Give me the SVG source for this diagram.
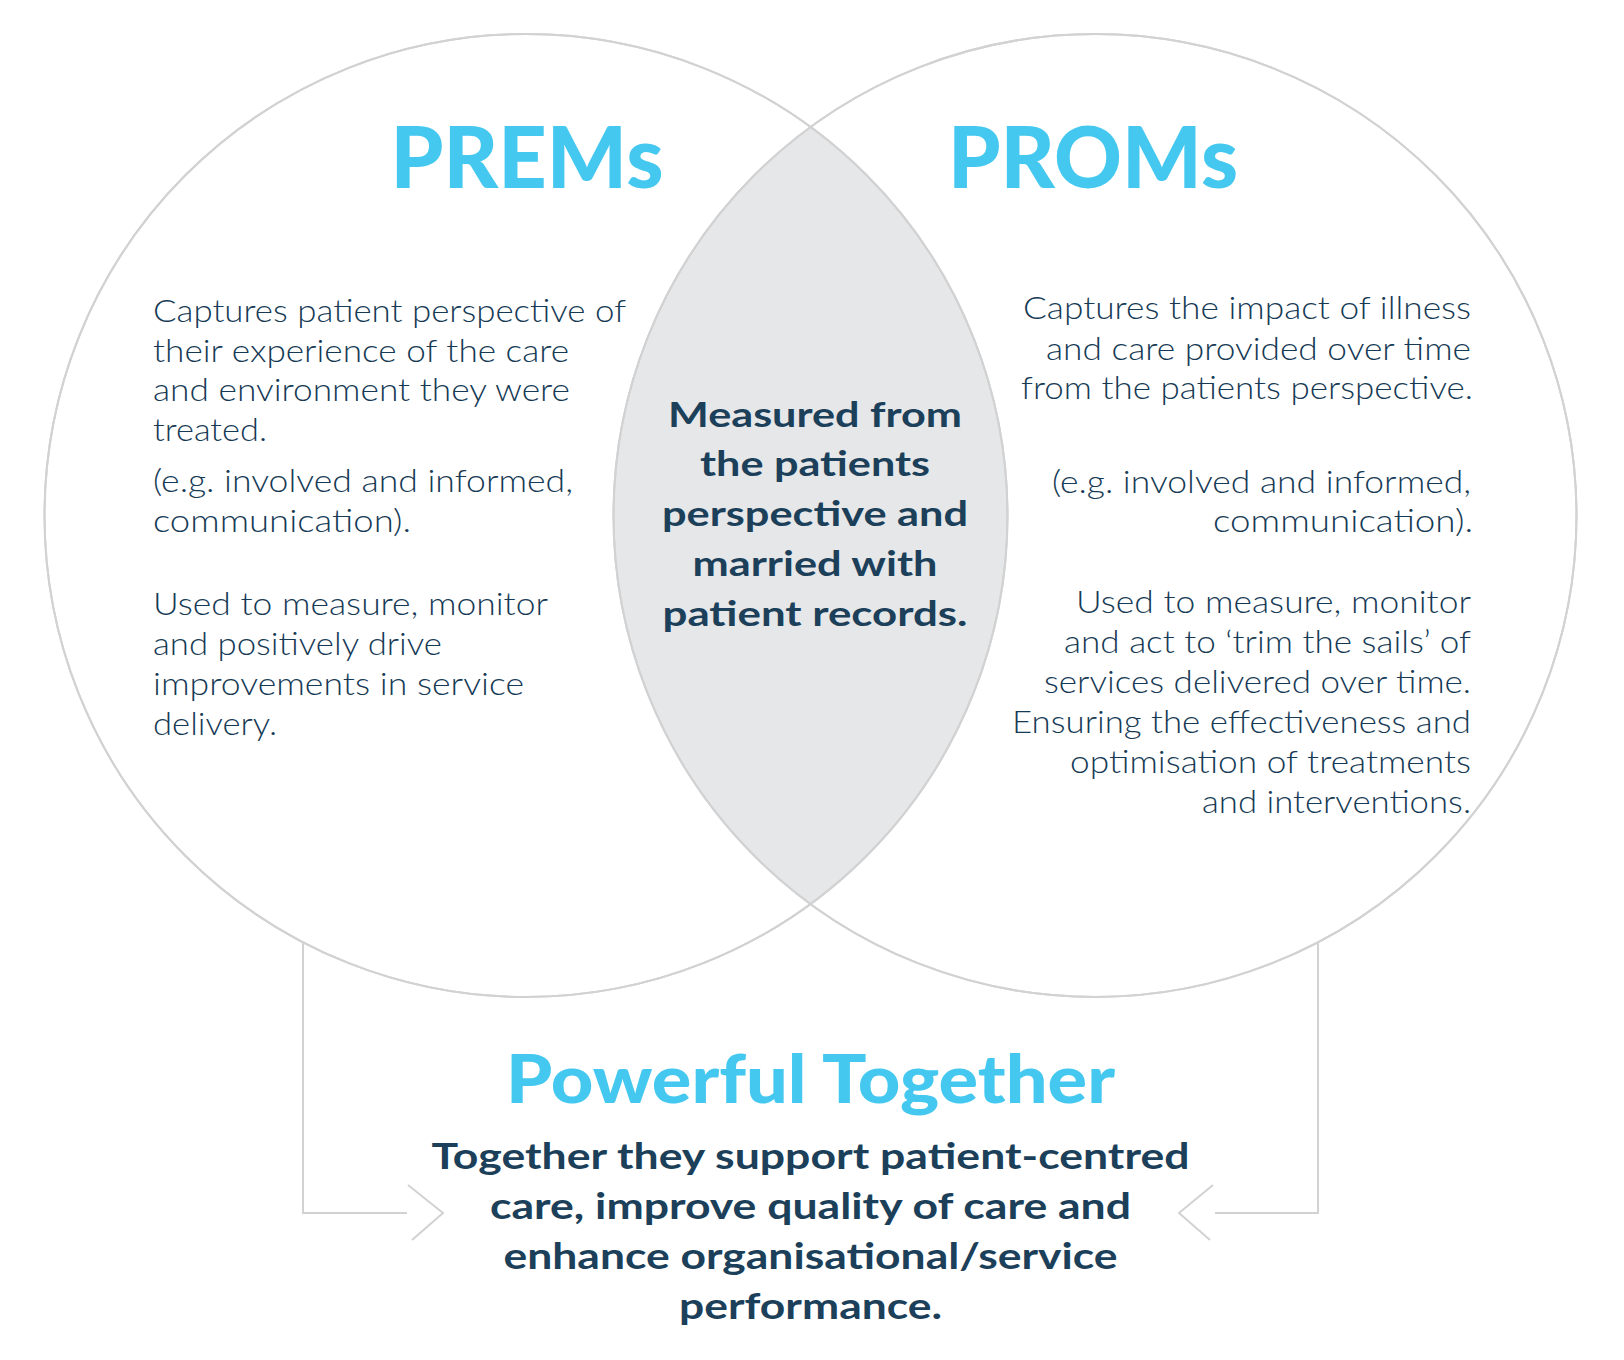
<svg xmlns="http://www.w3.org/2000/svg" width="1624" height="1360" viewBox="0 0 1624 1360">
<style>
.ring{fill:none;stroke:#d2d2d2;stroke-width:2}
.lens{fill:#e6e7e9;stroke:none}
.conn{fill:none;stroke:#d2d2d2;stroke-width:2}
.title{font-family:Lato,"Open Sans","Liberation Sans",sans-serif;font-weight:900;fill:#45c8f0;text-anchor:middle}
.body{font-family:Lato,"Open Sans","Liberation Sans",sans-serif;font-weight:300;font-size:32px;fill:#163a55}
.bold{font-family:Lato,"Open Sans","Liberation Sans",sans-serif;font-weight:700;fill:#1c3f5a;text-anchor:middle}
.r{text-anchor:end}
</style>
<rect width="1624" height="1360" fill="#ffffff"/>
<g id="overlap">
<path class="lens" d="M810.5 127 A481.5 481.5 0 0 1 810.5 904 A481.5 481.5 0 0 1 810.5 127 Z"/>
<text class="bold" font-size="35" x="815" y="427" textLength="294" lengthAdjust="spacingAndGlyphs">Measured from</text>
<text class="bold" font-size="35" x="815" y="476" textLength="230" lengthAdjust="spacingAndGlyphs">the patients</text>
<text class="bold" font-size="35" x="815" y="526" textLength="306" lengthAdjust="spacingAndGlyphs">perspective and</text>
<text class="bold" font-size="35" x="815" y="576" textLength="245" lengthAdjust="spacingAndGlyphs">married with</text>
<text class="bold" font-size="35" x="815" y="626" textLength="305" lengthAdjust="spacingAndGlyphs">patient records.</text>
</g>
<g id="prems">
<circle class="ring" cx="526" cy="515.5" r="481.5"/>
<text class="title" font-size="85" x="527" y="188" textLength="273" lengthAdjust="spacingAndGlyphs">PREMs</text>
<text class="body" x="153" y="322" textLength="473" lengthAdjust="spacingAndGlyphs">Captures patient perspective of</text>
<text class="body" x="153" y="362" textLength="416" lengthAdjust="spacingAndGlyphs">their experience of the care</text>
<text class="body" x="153" y="401" textLength="417" lengthAdjust="spacingAndGlyphs">and environment they were</text>
<text class="body" x="153" y="441" textLength="114" lengthAdjust="spacingAndGlyphs">treated.</text>
<text class="body" x="153" y="492" textLength="420" lengthAdjust="spacingAndGlyphs">(e.g. involved and informed,</text>
<text class="body" x="153" y="532" textLength="258" lengthAdjust="spacingAndGlyphs">communication).</text>
<text class="body" x="153" y="615" textLength="395" lengthAdjust="spacingAndGlyphs">Used to measure, monitor</text>
<text class="body" x="153" y="655" textLength="289" lengthAdjust="spacingAndGlyphs">and positively drive</text>
<text class="body" x="153" y="695" textLength="371" lengthAdjust="spacingAndGlyphs">improvements in service</text>
<text class="body" x="153" y="735" textLength="124" lengthAdjust="spacingAndGlyphs">delivery.</text>
</g>
<g id="proms">
<circle class="ring" cx="1095" cy="515.5" r="481.5"/>
<text class="title" font-size="85" x="1093" y="188" textLength="290" lengthAdjust="spacingAndGlyphs">PROMs</text>
<text class="body r" x="1471" y="319" textLength="448" lengthAdjust="spacingAndGlyphs">Captures the impact of illness</text>
<text class="body r" x="1471" y="360" textLength="425" lengthAdjust="spacingAndGlyphs">and care provided over time</text>
<text class="body r" x="1473" y="399" textLength="452" lengthAdjust="spacingAndGlyphs">from the patients perspective.</text>
<text class="body r" x="1471" y="493" textLength="419" lengthAdjust="spacingAndGlyphs">(e.g. involved and informed,</text>
<text class="body r" x="1473" y="532" textLength="260" lengthAdjust="spacingAndGlyphs">communication).</text>
<text class="body r" x="1471" y="613" textLength="395" lengthAdjust="spacingAndGlyphs">Used to measure, monitor</text>
<text class="body r" x="1471" y="653" textLength="407" lengthAdjust="spacingAndGlyphs">and act to ‘trim the sails’ of</text>
<text class="body r" x="1471" y="693" textLength="427" lengthAdjust="spacingAndGlyphs">services delivered over time.</text>
<text class="body r" x="1471" y="733" textLength="459" lengthAdjust="spacingAndGlyphs">Ensuring the effectiveness and</text>
<text class="body r" x="1471" y="773" textLength="401" lengthAdjust="spacingAndGlyphs">optimisation of treatments</text>
<text class="body r" x="1471" y="813" textLength="269" lengthAdjust="spacingAndGlyphs">and interventions.</text>
</g>
<g id="outlines">
<circle class="ring" cx="526" cy="515.5" r="481.5"/>
<circle class="ring" cx="1095" cy="515.5" r="481.5"/>
</g>
<g id="connectors">
<polyline class="conn" points="303,943 303,1213 407,1213"/>
<polyline class="conn" points="408,1185 443,1213 412,1240"/>
<polyline class="conn" points="1318,943 1318,1213 1215,1213"/>
<polyline class="conn" points="1213,1185 1179,1213 1210,1240"/>
</g>
<g id="together">
<text class="title" font-size="66" x="810.5" y="1103" textLength="609" lengthAdjust="spacingAndGlyphs">Powerful Together</text>
<text class="bold" font-size="37" x="810.5" y="1169" textLength="758" lengthAdjust="spacingAndGlyphs">Together they support patient-centred</text>
<text class="bold" font-size="37" x="810.5" y="1219" textLength="641" lengthAdjust="spacingAndGlyphs">care, improve quality of care and</text>
<text class="bold" font-size="37" x="810.5" y="1269" textLength="614" lengthAdjust="spacingAndGlyphs">enhance organisational/service</text>
<text class="bold" font-size="37" x="810.5" y="1319" textLength="263" lengthAdjust="spacingAndGlyphs">performance.</text>
</g>
</svg>
